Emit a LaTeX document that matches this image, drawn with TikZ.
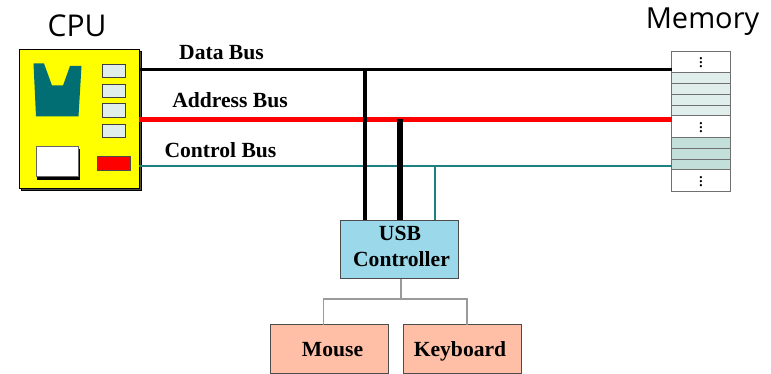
\documentclass[tikz,border=0pt]{standalone}
\usepackage{amsmath}
\usepackage{xcolor}
\usepackage{fontspec}
\setmainfont{Liberation Serif}
\newfontfamily\titlefont{Open Sans}
\definecolor{cpuyellow}{HTML}{FFFF00}
\definecolor{cputeal}{HTML}{006E73}
\definecolor{busteal}{HTML}{1F8080}
\definecolor{cellpale}{HTML}{E0EEEB}
\definecolor{celldark}{HTML}{C2DFD9}
\definecolor{usbblue}{HTML}{9AD8EA}
\definecolor{devsalmon}{HTML}{FFBFA6}
\definecolor{treegray}{HTML}{9A9A9A}
\definecolor{rowgray}{HTML}{707070}
\tikzset{
  box/.style={draw=#1,line width=1pt,rectangle,inner sep=0pt,outer sep=0pt},
  busname/.style={font=\fontsize{21.6}{26}\bfseries\selectfont,inner sep=0pt},
  titlename/.style={font=\fontsize{30}{36}\titlefont\selectfont,inner sep=0pt},
  reg/.style={box=black!75,fill=cellpale,minimum width=23.5pt,minimum height=13.5pt},
  memrow/.style={box=rowgray,minimum width=58.5pt,minimum height=#1},
  device/.style={box=black!70,fill=devsalmon,minimum width=118pt,minimum height=49pt},
  vdotsname/.style={inner sep=0pt,yshift=2.5pt,font=\fontsize{19}{19}\selectfont}
}
\begin{document}
\begin{tikzpicture}[x=1pt,y=-1pt,yshift=-0.5pt]
\useasboundingbox (0,-0.5) rectangle (771,373.5);

\node[box=black,fill=black!70,minimum width=119.5pt,minimum height=138.5pt] (cpushadow) at (81.5,120.75) {};
\node[box=black,fill=cpuyellow,minimum width=119.5pt,minimum height=138.5pt] (cpu) at (79.25,118.75) {};
\node[titlename] (cputitle) at (77,25.5) {CPU};
\fill[cputeal] (33.5,63) -- (44,63) -- (52,85) -- (63,85) -- (70,65.5) -- (81.5,65.5) -- (78.5,116) -- (36,116) -- cycle;
\node[reg] (regA) at (114,70.5) {};
\node[reg] (regB) at (114,90.5) {};
\node[reg] (regC) at (114,110.25) {};
\node[reg] (regD) at (114,130.5) {};
\node[box=black,fill=black,minimum width=42pt,minimum height=30pt] (cacheshadow) at (58,164) {};
\node[box=black!60,fill=white,minimum width=42pt,minimum height=30pt] (cache) at (57,161) {};
\node[box=black!70,fill=red,minimum width=33pt,minimum height=14pt] (alu) at (113.5,163) {};

\node[font=\fontsize{29}{35}\titlefont\selectfont,inner sep=0pt] (memtitle) at (702.5,21.5) {Memory};
\node[memrow=21pt,fill=white] (rowA) at (701,61.5) {};
\node[memrow=11pt,fill=cellpale] (rowB) at (701,77.5) {};
\node[memrow=11pt,fill=cellpale] (rowC) at (701,88.5) {};
\node[memrow=11pt,fill=cellpale] (rowD) at (701,99.5) {};
\node[memrow=10.5pt,fill=cellpale] (rowE) at (701,110.25) {};
\node[memrow=21.5pt,fill=white] (rowF) at (701,126.25) {};
\node[memrow=11pt,fill=celldark] (rowG) at (701,142.5) {};
\node[memrow=11pt,fill=celldark] (rowH) at (701,153.5) {};
\node[memrow=10.5pt,fill=celldark] (rowI) at (701,164.25) {};
\node[memrow=21.5pt,fill=white] (rowJ) at (701,180.25) {};
\node[vdotsname] (dotsA) at (rowA) {$\vdots$};
\node[vdotsname] (dotsB) at (rowF) {$\vdots$};
\node[vdotsname] (dotsC) at (rowJ) {$\vdots$};

\node[box=black!70,fill=usbblue,minimum width=118pt,minimum height=58pt] (usb) at (399,249) {};
\node[busname] (usbA) at (400,232.5) {USB};
\node[busname] (usbB) at (401.5,258.5) {Controller};
\node[device] (mouse) at (329,348.5) {};
\node[device] (keyboard) at (462.5,348.5) {};
\node[busname] (mousename) at (332.5,349) {Mouse};
\node[busname] (keyname) at (460,351) {Keyboard};

\node[busname] (dataname) at (221.5,52) {Data Bus};
\node[busname] (addrname) at (230,100) {Address Bus};
\node[busname] (ctrlname) at (220.5,150) {Control Bus};

\coordinate (dataL) at (cpu.east |- 0,69);
\coordinate (dataR) at (rowA.west |- 0,69);
\coordinate (addrL) at (cpu.east |- 0,119);
\coordinate (addrR) at (rowA.west |- 0,119);
\coordinate (ctrlL) at (cpu.east |- 0,165.5);
\coordinate (ctrlR) at (rowA.west |- 0,165.5);
\coordinate (treetop) at (401,297);
\coordinate (treeL) at (323.5,298.5);
\coordinate (treeR) at (467,298.5);

\draw[-,busteal,line width=2pt] (ctrlL) -- (ctrlR);
\draw[-,red,line width=5pt] (addrL) -- (addrR);
\draw[-,black,line width=3pt] (dataL) -- (dataR);
\draw[-,black,line width=3.5pt] (dataL -| 365,0) -- (usb.north -| 365,0);
\draw[-,black,line width=6pt] (addrL -| 400,0) -- (usb.north -| 400,0);
\draw[-,busteal,line width=2pt] (ctrlL -| 435,0) -- (usb.north -| 435,0);
\draw[-,treegray,line width=1.2pt] (usb.south -| treetop) -- (treetop);
\draw[-,treegray,line width=1.2pt] (mouse.north -| treeL) -- (treeL) -- (treeR) -- (keyboard.north -| treeR);

\end{tikzpicture}
\end{document}
